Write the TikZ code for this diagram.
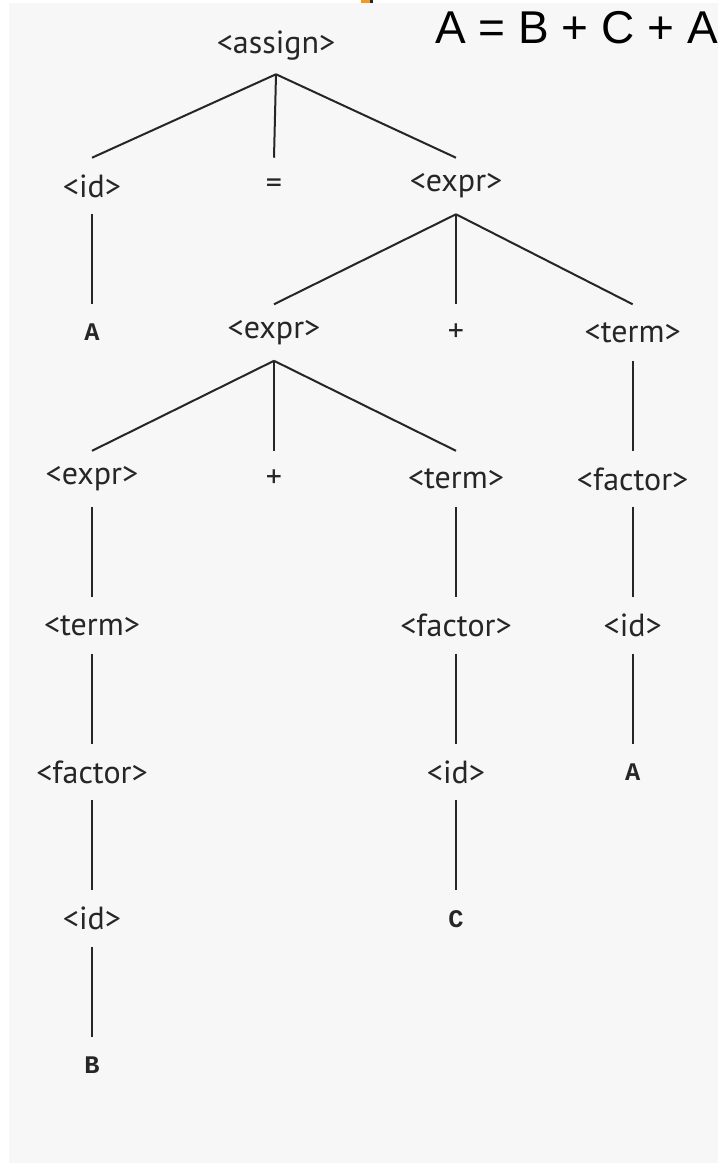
\documentclass[tikz,border=0pt]{standalone}
\usepackage{fontspec}
\setmainfont{PT Sans}
\newfontfamily\titlefont{Liberation Sans}
\newfontfamily\termfont{Liberation Mono}
\usepackage{tikz}
\usetikzlibrary{positioning}
\definecolor{panelbg}{HTML}{F7F7F7}
\definecolor{inkgray}{HTML}{262626}
\definecolor{tabmark}{HTML}{F39A1E}

\begin{document}
\begin{tikzpicture}[
    x=0.75pt, y=-0.75pt,
    nt/.style={rectangle, inner sep=0pt, minimum height=42pt, text=inkgray,
        font=\fontsize{24}{28}\selectfont},
    sym/.style={nt},
    tm/.style={nt, font=\termfont\bfseries\fontsize{19}{22}\selectfont},
    edge/.style={draw=inkgray, line width=1.5pt},
    node distance=109.9pt and 136.5pt, on grid
]
\useasboundingbox (0,0) rectangle (718,1163);
\fill[white] (0,0) rectangle (718,1163);
\fill[panelbg] (9,3) rectangle (718,1163);
\fill[tabmark] (361,0) rectangle (370,3);
\fill[inkgray] (370,0) rectangle (373,3);

\node[anchor=base west, inner sep=0pt, font=\titlefont\fontsize{34.5}{40}\selectfont] (title) at (435,44) {A = B + C + A};

% parse tree
\node[nt] (assign) at (276,46) {<assign>};
\node[nt] (id1) at (92,186) {<id>};
\node[sym, right=of id1] (eq) {=};
\node[nt, right=of eq] (expr1) {<expr>};
\node[tm, below=of id1] (a1) {A};
\node[nt, below=of eq] (expr2) {<expr>};
\node[sym, below=of expr1] (plus1) {+};
\node[nt, right=of plus1, xshift=-4pt] (term1) {<term>};
\node[nt, below=of a1] (expr3) {<expr>};
\node[sym, below=of expr2] (plus2) {+};
\node[nt, below=of plus1] (term2) {<term>};
\node[nt, below=of term1] (factor1) {<factor>};
\node[nt, below=of expr3] (term3) {<term>};
\node[nt, below=of term2] (factor2) {<factor>};
\node[nt, below=of factor1] (id2) {<id>};
\node[nt, below=of term3] (factor3) {<factor>};
\node[nt, below=of factor2] (id3) {<id>};
\node[tm, below=of id2] (a2) {A};
\node[nt, below=of factor3] (id4) {<id>};
\node[tm, below=of id3] (c1) {C};
\node[tm, below=of id4] (b1) {B};

\draw[edge] (assign.south) -- (id1.north); \draw[edge] (assign.south) -- (eq.north);
\draw[edge] (assign.south) -- (expr1.north); \draw[edge] (id1.south) -- (a1.north);
\draw[edge] (expr1.south) -- (expr2.north); \draw[edge] (expr1.south) -- (plus1.north);
\draw[edge] (expr1.south) -- (term1.north); \draw[edge] (expr2.south) -- (expr3.north);
\draw[edge] (expr2.south) -- (plus2.north); \draw[edge] (expr2.south) -- (term2.north);
\draw[edge] (term1.south) -- (factor1.north); \draw[edge] (expr3.south) -- (term3.north);
\draw[edge] (term2.south) -- (factor2.north); \draw[edge] (factor1.south) -- (id2.north);
\draw[edge] (term3.south) -- (factor3.north); \draw[edge] (factor2.south) -- (id3.north);
\draw[edge] (id2.south) -- (a2.north); \draw[edge] (factor3.south) -- (id4.north);
\draw[edge] (id3.south) -- (c1.north); \draw[edge] (id4.south) -- (b1.north);
\end{tikzpicture}
\end{document}
